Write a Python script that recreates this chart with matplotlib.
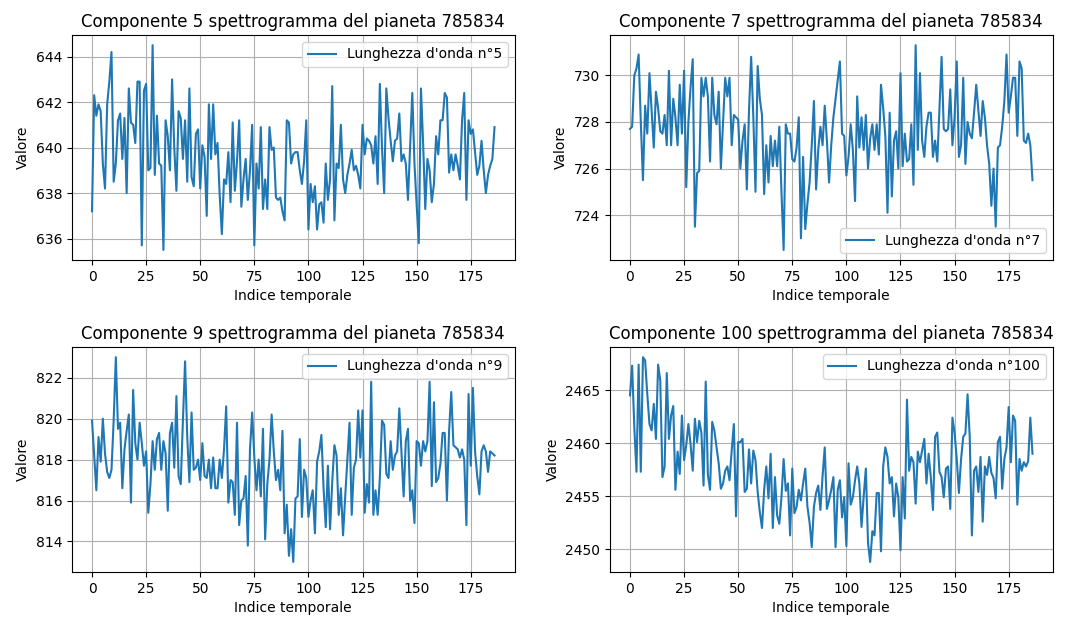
import numpy as np
import matplotlib
matplotlib.use('Agg')
import matplotlib.pyplot as plt

planet_id = 785834
components = [5, 7, 9, 100]

# spectrogram components over time (one value per time index)
comp_5 = [
    637.2, 642.3, 641.4, 641.9, 641.6, 639.3, 638.2, 641.9, 642.9, 644.2,
    638.5, 639.3, 641.2, 641.5, 639.5, 641.3, 638.0, 642.6, 641.1, 641.0,
    640.2, 642.9, 642.9, 635.7, 642.5, 642.8, 639.0, 639.1, 644.5, 638.8,
    641.4, 639.3, 639.2, 635.5, 641.2, 640.5, 639.0, 643.0, 640.0, 638.1,
    641.6, 641.3, 639.5, 641.2, 638.5, 642.6, 638.7, 638.3, 640.6, 640.8,
    638.2, 640.1, 639.6, 637.0, 641.9, 639.5, 641.9, 639.7, 640.2, 637.9,
    636.2, 638.6, 638.4, 639.8, 637.6, 641.1, 638.1, 639.4, 641.2, 637.4,
    638.6, 639.5, 637.7, 639.0, 641.0, 635.7, 639.3, 638.2, 640.9, 637.3,
    638.6, 637.3, 640.9, 639.9, 640.0, 637.8, 637.7, 637.8, 637.2, 636.8,
    641.2, 641.1, 639.3, 639.7, 639.8, 639.8, 639.0, 638.4, 639.4, 641.2,
    636.4, 638.4, 637.6, 638.3, 636.4, 637.5, 637.6, 636.7, 639.3, 637.7,
    638.6, 642.7, 636.8, 639.3, 639.1, 641.0, 638.6, 638.0, 638.8, 639.3,
    639.9, 639.0, 639.2, 638.8, 638.2, 641.0, 639.7, 640.4, 640.3, 640.1,
    639.3, 640.5, 638.4, 642.8, 640.0, 638.0, 642.6, 641.3, 640.3, 639.4,
    640.3, 640.4, 641.5, 639.4, 639.7, 639.3, 637.7, 640.1, 642.4, 639.3,
    637.5, 635.8, 642.6, 640.2, 637.3, 639.5, 639.0, 637.6, 638.4, 640.5,
    639.7, 641.2, 641.2, 642.4, 642.2, 638.9, 639.7, 639.0, 639.7, 639.2,
    638.6, 641.2, 642.4, 637.7, 641.2, 640.6, 640.8, 639.8, 638.8, 639.2,
    640.3, 639.0, 638.0, 638.8, 639.2, 639.5, 640.9,
]

comp_7 = [
    727.7, 727.8, 730.0, 730.3, 730.9, 728.0, 725.5, 728.7, 727.5, 730.1,
    728.5, 726.9, 729.3, 728.6, 727.6, 727.5, 728.3, 727.0, 730.2, 727.0,
    729.0, 728.2, 727.0, 729.6, 727.5, 730.2, 725.2, 728.0, 729.5, 730.7,
    723.5, 725.8, 725.9, 729.9, 729.1, 729.9, 729.1, 726.3, 729.9, 728.3,
    727.9, 729.3, 726.0, 728.0, 729.9, 729.1, 729.9, 727.0, 728.3, 728.2,
    728.1, 726.0, 727.2, 727.9, 725.1, 728.5, 730.8, 728.2, 725.0, 730.4,
    729.0, 728.3, 724.9, 727.0, 725.4, 727.4, 726.1, 727.2, 726.1, 727.8,
    725.0, 722.5, 727.9, 727.5, 727.5, 726.4, 726.3, 726.9, 728.2, 723.0,
    726.5, 723.4, 724.5, 725.4, 727.0, 728.9, 725.1, 726.8, 727.8, 727.0,
    728.7, 727.2, 725.4, 727.0, 728.2, 729.0, 729.8, 730.6, 727.5, 727.4,
    725.7, 726.5, 727.9, 726.8, 724.6, 729.1, 726.9, 728.2, 726.8, 728.3,
    726.0, 727.3, 727.9, 726.8, 727.9, 726.6, 729.6, 728.6, 727.4, 724.1,
    728.4, 724.8, 727.2, 727.6, 726.0, 730.1, 726.1, 727.5, 726.3, 726.4,
    727.9, 725.3, 731.3, 726.8, 730.1, 727.2, 726.5, 727.8, 728.4, 728.4,
    726.5, 727.2, 726.3, 728.5, 730.8, 727.7, 727.6, 727.7, 729.4, 727.0,
    728.2, 730.6, 726.5, 727.0, 729.9, 726.2, 728.0, 727.5, 727.3, 728.4,
    729.6, 728.5, 727.4, 728.9, 728.2, 727.0, 726.2, 724.4, 726.0, 723.5,
    726.9, 727.0, 727.8, 728.9, 730.9, 728.4, 729.1, 729.9, 729.9, 727.4,
    730.6, 730.3, 727.2, 727.1, 727.5, 727.0, 725.5,
]

comp_9 = [
    819.9, 818.2, 816.5, 819.1, 817.9, 820.0, 818.3, 817.4, 817.1, 817.5,
    819.9, 823.0, 819.5, 819.8, 816.6, 818.5, 819.4, 820.2, 815.9, 821.4,
    818.8, 818.0, 819.8, 818.8, 817.7, 818.4, 815.4, 816.8, 818.9, 817.5,
    819.0, 819.3, 817.5, 818.9, 818.3, 815.5, 819.3, 819.8, 817.6, 821.1,
    817.2, 816.8, 819.9, 822.8, 819.1, 816.9, 820.3, 817.5, 817.6, 818.0,
    817.0, 818.8, 817.2, 817.1, 818.0, 816.6, 818.1, 816.6, 816.6, 818.0,
    817.1, 818.5, 820.6, 815.9, 817.0, 816.9, 815.3, 819.8, 814.8, 816.0,
    816.1, 817.2, 813.8, 818.5, 820.3, 818.1, 816.5, 818.0, 816.2, 819.5,
    814.1, 816.8, 818.0, 820.2, 818.4, 817.0, 817.5, 816.5, 819.4, 814.4,
    815.8, 813.3, 814.6, 813.0, 816.1, 816.2, 819.0, 815.2, 817.5, 817.1,
    815.2, 816.0, 816.5, 814.4, 817.9, 818.4, 819.2, 816.6, 814.7, 817.7,
    814.6, 816.9, 818.7, 818.2, 815.3, 816.6, 814.3, 816.2, 818.0, 819.8,
    815.3, 817.6, 818.0, 820.4, 818.1, 820.4, 815.4, 816.8, 815.9, 821.8,
    815.3, 816.5, 815.3, 817.1, 819.9, 819.7, 817.3, 817.1, 818.9, 817.5,
    818.2, 818.4, 820.5, 818.3, 816.2, 818.9, 819.5, 816.0, 816.5, 814.9,
    818.9, 818.8, 817.7, 818.9, 818.4, 818.9, 821.8, 816.7, 820.8, 816.9,
    817.1, 817.8, 819.3, 819.3, 816.0, 819.4, 821.3, 818.7, 818.6, 818.5,
    818.1, 818.5, 818.0, 814.8, 821.2, 817.7, 821.5, 818.4, 817.2, 816.3,
    818.4, 818.7, 818.4, 817.4, 818.4, 818.3, 818.2,
]

comp_100 = [
    2464.5, 2467.3, 2461.5, 2457.3, 2467.4, 2457.3, 2468.1, 2467.8, 2464.6, 2461.8,
    2461.2, 2463.7, 2460.4, 2467.4, 2465.9, 2456.8, 2457.8, 2466.6, 2460.4, 2462.6,
    2463.5, 2455.6, 2459.2, 2457.1, 2462.6, 2458.4, 2459.8, 2461.8, 2459.9, 2457.4,
    2462.3, 2460.1, 2462.1, 2461.0, 2456.0, 2465.8, 2457.0, 2455.6, 2462.0, 2461.2,
    2459.6, 2458.1, 2455.7, 2456.2, 2457.4, 2457.8, 2456.5, 2459.3, 2461.8, 2453.1,
    2460.1, 2460.1, 2460.4, 2455.4, 2455.7, 2459.4, 2456.2, 2459.3, 2458.4, 2455.4,
    2453.5, 2452.0, 2455.6, 2457.8, 2454.8, 2459.0, 2452.0, 2456.8, 2453.2, 2452.4,
    2454.9, 2458.5, 2455.5, 2456.2, 2451.3, 2457.6, 2453.4, 2454.0, 2455.6, 2454.6,
    2456.2, 2457.6, 2454.0, 2452.5, 2450.2, 2454.0, 2455.3, 2456.0, 2453.7, 2456.9,
    2459.6, 2453.8, 2454.6, 2455.6, 2456.8, 2450.2, 2455.6, 2456.5, 2453.0, 2454.9,
    2450.3, 2458.1, 2454.2, 2454.9, 2456.5, 2457.8, 2456.2, 2452.1, 2455.0, 2457.6,
    2450.6, 2448.8, 2451.7, 2451.3, 2455.3, 2455.3, 2449.8, 2457.8, 2459.6, 2458.7,
    2456.2, 2456.8, 2453.1, 2456.2, 2454.9, 2449.9, 2456.8, 2452.9, 2464.1, 2457.4,
    2458.7, 2458.2, 2454.3, 2459.2, 2458.2, 2459.3, 2460.4, 2456.2, 2459.0, 2456.8,
    2453.7, 2460.6, 2461.0, 2457.3, 2456.8, 2454.9, 2457.6, 2457.8, 2453.8, 2462.4,
    2461.0, 2458.5, 2455.3, 2458.5, 2460.6, 2460.9, 2464.6, 2460.6, 2451.3, 2457.4,
    2457.8, 2455.4, 2458.7, 2452.6, 2457.8, 2457.0, 2458.7, 2457.2, 2456.7, 2454.8,
    2460.1, 2460.6, 2455.7, 2458.5, 2459.6, 2463.4, 2458.2, 2462.6, 2462.1, 2454.2,
    2458.5, 2457.4, 2458.2, 2457.8, 2458.3, 2462.4, 2459.0,
]

series = [comp_5, comp_7, comp_9, comp_100]
legend_locs = ['upper right', 'lower right', 'upper right', 'upper right']

fig, axes = plt.subplots(2, 2, figsize=(10.73, 6.24), dpi=100)
fig.subplots_adjust(left=0.067, right=0.981, top=0.944, bottom=0.083,
                    wspace=0.215, hspace=0.385)

for ax, comp, values, loc in zip(axes.flat, components, series, legend_locs):
    t = np.arange(len(values))
    ax.plot(t, values, label=f"Lunghezza d'onda n°{comp}")
    ax.set_title(f"Componente {comp} spettrogramma del pianeta {planet_id}")
    ax.set_xlabel("Indice temporale")
    ax.set_ylabel("Valore")
    ax.grid(True)
    ax.legend(loc=loc)

plt.savefig('out.png', dpi=100)
